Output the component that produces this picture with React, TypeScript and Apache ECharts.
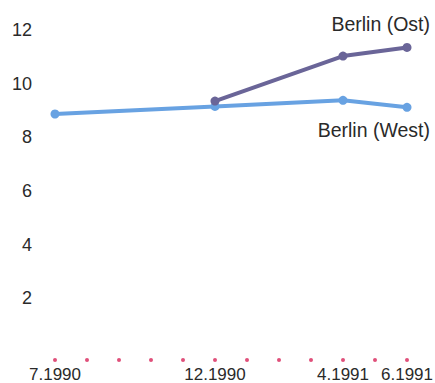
import React, { useEffect, useRef } from "react";
import * as echarts from "echarts";

const months = ["7.1990", "8.1990", "9.1990", "10.1990", "11.1990", "12.1990", "1.1991", "2.1991", "3.1991", "4.1991", "5.1991", "6.1991"];
const shownLabels = ["7.1990", "12.1990", "4.1991", "6.1991"];
const westValues: (number | null)[] = [8.87, null, null, null, null, 9.15, null, null, null, 9.38, null, 9.12];
const ostValues: (number | null)[] = [null, null, null, null, null, 9.35, null, null, null, 11.03, null, 11.35];
const yTicks = [2, 4, 6, 8, 10, 12];
const ostName = "Berlin (Ost)";
const westName = "Berlin (West)";

const FONT = "'Liberation Sans', Arial, Helvetica, sans-serif";

function withEndLabel(values: (number | null)[], name: string, pos: "top" | "bottom", distance: number) {
  const last = values.length - 1;
  return values.map((v, i) =>
    i === last
      ? {
          value: v,
          label: {
            show: true,
            position: pos,
            distance,
            align: "right",
            offset: [23, 0],
            formatter: name,
            fontSize: 19.5,
            fontFamily: FONT,
            color: "#2a2a2a",
          },
        }
      : v
  );
}

export default function App() {
  const ref = useRef<HTMLDivElement>(null);
  useEffect(() => {
    if (!ref.current) return;
    const chart = echarts.init(ref.current, null, { renderer: "svg" });
    chart.setOption({
      animation: false,
      backgroundColor: "#ffffff",
      grid: { left: 55, right: 28, top: 30, bottom: 31, containLabel: false, outerBoundsMode: "none" },
      xAxis: {
        type: "category",
        data: months,
        boundaryGap: false,
        axisLine: { show: false },
        axisTick: {
          show: true,
          interval: 0,
          length: 12,
          lineStyle: { color: "#e0507a", width: 4, cap: "round", type: [0, 20], dashOffset: 11.5 },
        },
        axisLabel: {
          interval: (i: number, v: string) => shownLabels.includes(v),
          fontSize: 17,
          lineHeight: 16,
          fontFamily: FONT,
          color: "#2a2a2a",
          margin: 14,
        },
        splitLine: { show: false },
      },
      yAxis: {
        type: "value",
        min: 0,
        max: 12,
        interval: 2,
        axisLine: { show: false },
        axisTick: { show: false },
        splitLine: { show: false },
        axisLabel: {
          fontSize: 18,
          fontFamily: FONT,
          color: "#2a2a2a",
          margin: 23,
          formatter: (v: number) => (yTicks.includes(v) ? String(v) : ""),
        },
      },
      series: [
        {
          name: westName,
          type: "line",
          connectNulls: true,
          data: withEndLabel(westValues, westName, "bottom", 8),
          symbol: "circle",
          symbolSize: 9,
          lineStyle: { color: "#68a2e2", width: 4 },
          itemStyle: { color: "#68a2e2" },
        },
        {
          name: ostName,
          type: "line",
          connectNulls: true,
          data: withEndLabel(ostValues, ostName, "top", 9),
          symbol: "circle",
          symbolSize: 9,
          lineStyle: { color: "#6a6598", width: 4 },
          itemStyle: { color: "#6a6598" },
        },
      ],
    });
    return () => chart.dispose();
  }, []);
  return <div ref={ref} style={{ width: 435, height: 383, position: "absolute", left: 0, top: 0 }} />;
}
